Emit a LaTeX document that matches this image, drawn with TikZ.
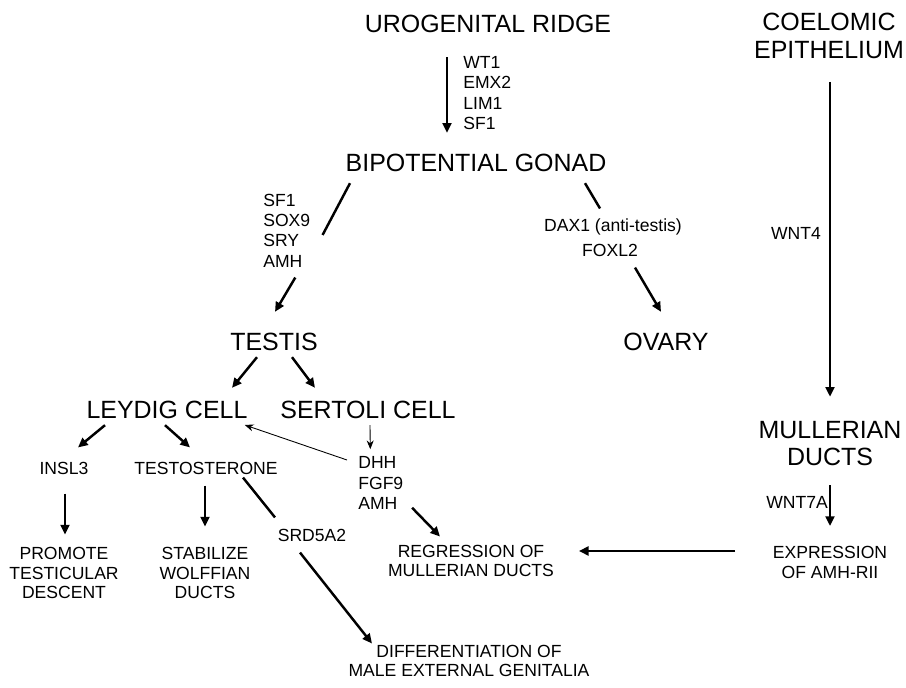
\documentclass[tikz,border=0pt]{standalone}
\usepackage{fontspec}
\setmainfont{Liberation Sans}
\usetikzlibrary{arrows.meta,calc}

\tikzset{
	big/.style = {inner sep=0pt, align=center, font=\fontsize{14.2}{15.6}\selectfont},
	small/.style = {inner sep=0pt, align=center, font=\fontsize{10}{11.3}\selectfont},
	genes/.style = {inner sep=0pt, align=left, font=\fontsize{10}{11.6}\selectfont},
	arr/.style = {line width=1.4pt, -{Triangle[length=5.5pt,width=5pt]}},
	link/.style = {line width=1.4pt},
	thinarr/.style = {line width=0.5pt, -{Stealth[length=5pt,width=4pt]}},
}

\begin{document}
\begin{tikzpicture}[x=0.02cm, y=-0.02cm]
	\useasboundingbox (0,0) rectangle (906,688);
	% upper part
	\draw (488,24) node [big] (ridge) {UROGENITAL RIDGE};
	\draw (829,36) node [big] (coelom) {COELOMIC\\EPITHELIUM};
	\draw (463,93) node [genes, anchor=west] (rgenes) {WT1\\EMX2\\LIM1\\SF1};
	\draw (476,163) node [big] (gonad) {BIPOTENTIAL GONAD};
	\draw (263,230.5) node [genes, anchor=west] (tgenes) {SF1\\SOX9\\SRY\\AMH};
	\draw (613,227) node [small] (dax) {DAX1 (anti-testis)};
	\draw (610,250) node [small] (foxl) {FOXL2};
	\draw (796,233) node [small] (wntf) {WNT4};
	\draw (274,342) node [big] (testis) {TESTIS};
	\draw (666,342) node [big] (ovary) {OVARY};
	\draw (167,410) node [big] (leydig) {LEYDIG CELL};
	\draw (368,410) node [big] (sertoli) {SERTOLI CELL};
	\draw (830,443.5) node [big] (mull) {MULLERIAN\\DUCTS};
	% lower part
	\draw (64,468) node [small] (insl) {INSL3};
	\draw (206,468) node [small] (testo) {TESTOSTERONE};
	\draw (358,483) node [genes, anchor=west] (dhh) {DHH\\FGF9\\AMH};
	\draw (797,502) node [small] (wnts) {WNT7A};
	\draw (312,535) node [small] (srd) {SRD5A2};
	\draw (64,573) node [small] (promote) {PROMOTE\\TESTICULAR\\DESCENT};
	\draw (205,573) node [small] (stab) {STABILIZE\\WOLFFIAN\\DUCTS};
	\draw (471,561) node [small] (regr) {REGRESSION OF\\MULLERIAN DUCTS};
	\draw (830,562.5) node [small] (expr) {EXPRESSION\\OF AMH-RII};
	\draw (469,661) node [small] (diff) {DIFFERENTIATION OF\\MALE EXTERNAL GENITALIA};

	\draw [arr] ($(ridge.south)+(-41,24)$) -- ($(gonad.north)+(-29,-21)$);
	\draw [link] ($(gonad.south)+(-126,11)$) -- ($(tgenes.east)+(12,4.5)$);
	\draw [arr] ($(tgenes.south)+(8.5,10)$) -- ($(testis.north)+(1,-21)$);
	\draw [link] ($(gonad.south)+(109,11)$) -- ($(dax.north)+(-13,-10)$);
	\draw [arr] ($(foxl.south)+(25,11)$) -- ($(ovary.north)+(-5,-21)$);
	\draw [arr] ($(coelom.south)+(1,23)$) -- ($(mull.north)+(0,-24)$);

	\draw [arr] ($(testis.south)+(-17,6)$) -- ($(leydig.north)+(65,-13)$);
	\draw [arr] ($(testis.south)+(18,6)$) -- ($(sertoli.north)+(-53,-13)$);
	\draw [arr] ($(leydig.south)+(-62,6)$) -- ($(insl.north)+(14,-14)$);
	\draw [arr] ($(leydig.south)+(-2,6)$) -- ($(testo.north)+(-16,-14)$);
	\draw [thinarr] ($(sertoli.south)+(2,6)$) -- ($(dhh.north)+(-10.5,-7)$);
	\draw [thinarr] ($(dhh.west)+(-11,-23)$) -- ($(leydig.east)+(-3,15)$);

	\draw [arr] ($(insl.south)+(1,19)$) -- ($(promote.north)+(1,-12)$);
	\draw [arr] ($(testo.south)+(-1,11)$) -- ($(stab.north)+(0,-20)$);
	\draw [link] ($(testo.south)+(37,3)$) -- ($(srd.north)+(-37,-11)$);
	\draw [arr] ($(srd.south)+(-12,11)$) -- ($(diff.north)+(-97,-1)$);
	\draw [arr] ($(dhh.south east)+(8.5,-2)$) -- ($(regr.north)+(-31,-8)$);
	\draw [arr] ($(mull.south)+(0,19)$) -- ($(expr.north)+(0,-20)$);
	\draw [arr] ($(expr.west)+(-37.5,-11.5)$) -- ($(regr.east)+(24.5,-10)$);
\end{tikzpicture}
\end{document}
